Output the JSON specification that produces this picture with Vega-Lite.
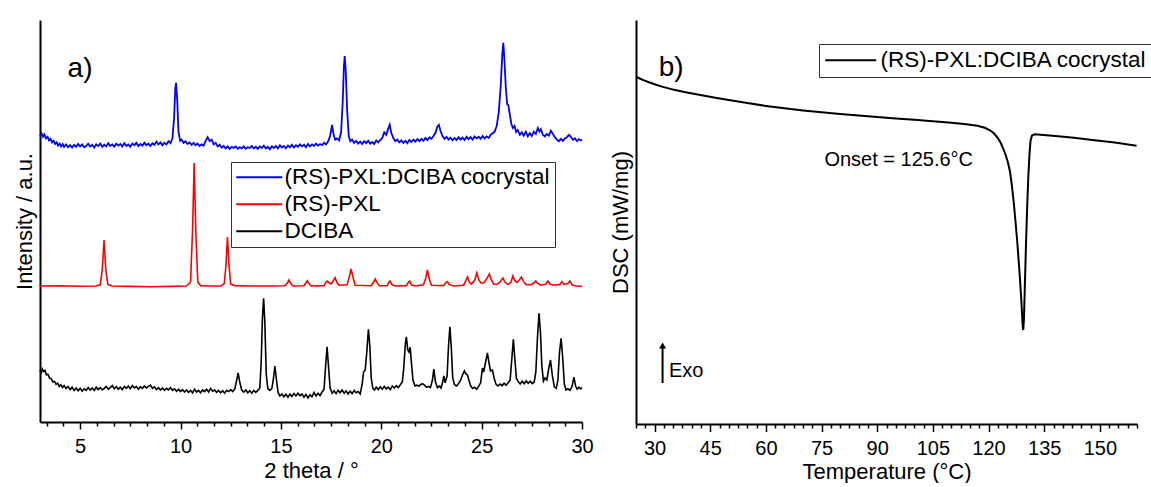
{
"$schema": "https://vega.github.io/schema/vega-lite/v6.json",
"background": "white",
"padding": {"left": 13, "top": 20, "right": 0, "bottom": 0},
"config": {
 "font": "Liberation Sans",
 "view": {"stroke": null},
 "axis": {"grid": false, "domainColor": "black", "domainWidth": 2, "tickColor": "black", "tickWidth": 1.5, "labelColor": "black", "titleColor": "black", "labelFont": "Liberation Sans", "titleFont": "Liberation Sans", "labelFontSize": 20, "titleFontSize": 22, "titleFontWeight": "normal", "labelFlush": false, "labelOverlap": false},
 "legend": {"labelFont": "Liberation Sans", "labelColor": "black"}
},
"spacing": 15,
"resolve": {"scale": {"color": "independent"}, "legend": {"color": "independent"}},
"datasets": {
 "cocrystal": [
  {"t":3.00,"i":71.4},{"t":3.08,"i":72.1},{"t":3.15,"i":71.3},{"t":3.22,"i":71.9},{"t":3.30,"i":70.9},{"t":3.38,"i":71.3},{"t":3.45,"i":70.4},{"t":3.53,"i":70.8},{"t":3.60,"i":69.9},{"t":3.68,"i":70.3},{"t":3.75,"i":69.5},{"t":3.83,"i":69.9},{"t":3.90,"i":69.1},{"t":3.98,"i":69.6},{"t":4.05,"i":68.9},{"t":4.13,"i":69.5},{"t":4.20,"i":68.8},{"t":4.30,"i":69.4},{"t":4.40,"i":68.7},{"t":4.50,"i":69.2},{"t":4.60,"i":68.6},{"t":4.70,"i":69.3},{"t":4.80,"i":68.8},{"t":4.90,"i":69.5},{"t":5.00,"i":68.9},{"t":5.10,"i":69.4},{"t":5.20,"i":68.7},{"t":5.30,"i":69.0},{"t":5.40,"i":69.6},{"t":5.50,"i":68.9},{"t":5.60,"i":69.3},{"t":5.70,"i":68.6},{"t":5.80,"i":69.4},{"t":5.90,"i":69.0},{"t":6.00,"i":69.6},{"t":6.10,"i":68.8},{"t":6.20,"i":69.3},{"t":6.30,"i":68.9},{"t":6.40,"i":69.7},{"t":6.50,"i":69.0},{"t":6.60,"i":69.4},{"t":6.70,"i":68.8},{"t":6.80,"i":69.6},{"t":6.90,"i":69.1},{"t":7.00,"i":69.5},{"t":7.10,"i":68.9},{"t":7.20,"i":69.7},{"t":7.30,"i":69.0},{"t":7.40,"i":69.4},{"t":7.50,"i":68.8},{"t":7.60,"i":69.6},{"t":7.70,"i":69.2},{"t":7.80,"i":69.8},{"t":7.90,"i":69.0},{"t":8.00,"i":69.5},{"t":8.10,"i":69.1},{"t":8.20,"i":69.8},{"t":8.30,"i":69.2},{"t":8.40,"i":69.6},{"t":8.50,"i":69.0},{"t":8.60,"i":69.7},{"t":8.70,"i":69.3},{"t":8.80,"i":70.1},{"t":8.90,"i":69.4},{"t":9.00,"i":69.9},{"t":9.10,"i":69.2},{"t":9.20,"i":69.8},{"t":9.30,"i":69.4},{"t":9.40,"i":70.2},{"t":9.50,"i":69.7},{"t":9.60,"i":71.0},{"t":9.68,"i":76.0},{"t":9.74,"i":83.5},{"t":9.78,"i":84.8},{"t":9.84,"i":80.0},{"t":9.90,"i":72.5},{"t":9.98,"i":70.3},{"t":10.05,"i":70.6},{"t":10.15,"i":69.8},{"t":10.25,"i":70.2},{"t":10.35,"i":69.5},{"t":10.45,"i":69.9},{"t":10.55,"i":69.3},{"t":10.65,"i":69.8},{"t":10.75,"i":69.2},{"t":10.85,"i":69.6},{"t":10.95,"i":69.0},{"t":11.05,"i":69.4},{"t":11.15,"i":69.1},{"t":11.25,"i":70.3},{"t":11.35,"i":71.2},{"t":11.45,"i":70.2},{"t":11.55,"i":70.6},{"t":11.65,"i":69.4},{"t":11.75,"i":69.8},{"t":11.85,"i":68.9},{"t":11.95,"i":69.3},{"t":12.05,"i":68.6},{"t":12.15,"i":69.0},{"t":12.25,"i":68.4},{"t":12.35,"i":68.9},{"t":12.45,"i":68.3},{"t":12.55,"i":68.8},{"t":12.65,"i":68.5},{"t":12.75,"i":68.9},{"t":12.85,"i":68.3},{"t":12.95,"i":68.7},{"t":13.05,"i":68.4},{"t":13.15,"i":68.9},{"t":13.25,"i":68.3},{"t":13.35,"i":68.7},{"t":13.45,"i":68.5},{"t":13.55,"i":69.0},{"t":13.65,"i":68.4},{"t":13.75,"i":68.8},{"t":13.85,"i":68.3},{"t":13.95,"i":68.9},{"t":14.05,"i":68.5},{"t":14.15,"i":69.1},{"t":14.25,"i":68.4},{"t":14.35,"i":68.8},{"t":14.45,"i":68.2},{"t":14.55,"i":68.9},{"t":14.65,"i":68.5},{"t":14.75,"i":69.0},{"t":14.85,"i":68.4},{"t":14.95,"i":69.2},{"t":15.05,"i":68.6},{"t":15.15,"i":69.0},{"t":15.25,"i":68.4},{"t":15.35,"i":69.1},{"t":15.45,"i":68.7},{"t":15.55,"i":69.3},{"t":15.65,"i":68.6},{"t":15.75,"i":69.2},{"t":15.85,"i":68.8},{"t":15.95,"i":69.4},{"t":16.05,"i":68.9},{"t":16.15,"i":69.3},{"t":16.25,"i":68.7},{"t":16.35,"i":69.5},{"t":16.45,"i":68.9},{"t":16.55,"i":69.4},{"t":16.65,"i":69.0},{"t":16.75,"i":69.6},{"t":16.85,"i":69.1},{"t":16.95,"i":69.5},{"t":17.05,"i":69.2},{"t":17.15,"i":69.8},{"t":17.25,"i":69.4},{"t":17.35,"i":70.1},{"t":17.45,"i":71.5},{"t":17.55,"i":74.3},{"t":17.62,"i":72.0},{"t":17.70,"i":70.6},{"t":17.80,"i":70.9},{"t":17.90,"i":70.4},{"t":18.00,"i":72.5},{"t":18.08,"i":80.0},{"t":18.14,"i":89.0},{"t":18.18,"i":91.5},{"t":18.23,"i":88.0},{"t":18.30,"i":78.0},{"t":18.38,"i":71.5},{"t":18.46,"i":70.2},{"t":18.55,"i":70.6},{"t":18.65,"i":69.8},{"t":18.75,"i":70.3},{"t":18.85,"i":69.6},{"t":18.95,"i":70.1},{"t":19.05,"i":69.5},{"t":19.15,"i":70.2},{"t":19.25,"i":69.7},{"t":19.35,"i":70.3},{"t":19.45,"i":69.6},{"t":19.55,"i":70.0},{"t":19.65,"i":69.5},{"t":19.75,"i":70.4},{"t":19.85,"i":69.9},{"t":19.95,"i":70.5},{"t":20.05,"i":71.0},{"t":20.15,"i":72.4},{"t":20.25,"i":71.8},{"t":20.35,"i":73.4},{"t":20.42,"i":74.3},{"t":20.50,"i":72.3},{"t":20.60,"i":71.0},{"t":20.70,"i":70.2},{"t":20.80,"i":70.6},{"t":20.90,"i":69.9},{"t":21.00,"i":70.4},{"t":21.10,"i":69.8},{"t":21.20,"i":70.3},{"t":21.30,"i":69.7},{"t":21.40,"i":70.5},{"t":21.50,"i":70.0},{"t":21.60,"i":70.6},{"t":21.70,"i":70.1},{"t":21.80,"i":70.7},{"t":21.90,"i":70.2},{"t":22.00,"i":70.8},{"t":22.10,"i":70.3},{"t":22.20,"i":71.0},{"t":22.30,"i":70.5},{"t":22.40,"i":71.2},{"t":22.50,"i":70.8},{"t":22.60,"i":71.5},{"t":22.70,"i":72.3},{"t":22.80,"i":73.9},{"t":22.87,"i":74.3},{"t":22.95,"i":72.8},{"t":23.05,"i":71.5},{"t":23.15,"i":70.8},{"t":23.25,"i":71.3},{"t":23.35,"i":70.6},{"t":23.45,"i":71.1},{"t":23.55,"i":70.4},{"t":23.65,"i":71.0},{"t":23.75,"i":70.5},{"t":23.85,"i":71.2},{"t":23.95,"i":70.6},{"t":24.05,"i":71.1},{"t":24.15,"i":70.5},{"t":24.25,"i":71.3},{"t":24.35,"i":70.7},{"t":24.45,"i":71.2},{"t":24.55,"i":70.6},{"t":24.65,"i":71.4},{"t":24.75,"i":70.9},{"t":24.85,"i":71.3},{"t":24.95,"i":70.8},{"t":25.05,"i":71.5},{"t":25.15,"i":70.9},{"t":25.25,"i":71.4},{"t":25.35,"i":71.0},{"t":25.45,"i":71.8},{"t":25.55,"i":72.2},{"t":25.65,"i":72.6},{"t":25.75,"i":74.0},{"t":25.85,"i":77.3},{"t":25.95,"i":84.0},{"t":26.03,"i":92.0},{"t":26.08,"i":94.8},{"t":26.13,"i":91.0},{"t":26.20,"i":84.0},{"t":26.27,"i":79.5},{"t":26.33,"i":79.2},{"t":26.40,"i":77.0},{"t":26.48,"i":74.5},{"t":26.56,"i":73.5},{"t":26.64,"i":74.0},{"t":26.72,"i":72.5},{"t":26.80,"i":73.0},{"t":26.90,"i":71.8},{"t":27.00,"i":72.4},{"t":27.10,"i":71.6},{"t":27.20,"i":72.6},{"t":27.30,"i":71.4},{"t":27.40,"i":72.2},{"t":27.50,"i":71.5},{"t":27.60,"i":72.6},{"t":27.70,"i":72.0},{"t":27.80,"i":73.5},{"t":27.88,"i":72.6},{"t":27.95,"i":73.2},{"t":28.05,"i":71.8},{"t":28.15,"i":71.4},{"t":28.25,"i":72.0},{"t":28.35,"i":71.6},{"t":28.45,"i":72.8},{"t":28.55,"i":72.0},{"t":28.65,"i":71.2},{"t":28.75,"i":70.6},{"t":28.85,"i":70.2},{"t":28.95,"i":70.8},{"t":29.05,"i":70.3},{"t":29.15,"i":70.9},{"t":29.25,"i":71.2},{"t":29.35,"i":71.8},{"t":29.45,"i":71.3},{"t":29.55,"i":70.5},{"t":29.65,"i":70.9},{"t":29.75,"i":70.2},{"t":29.85,"i":70.7},{"t":29.95,"i":70.4},{"t":30.00,"i":70.6}
 ],
 "pxl": [
  {"t":3.0,"i":34.0},{"t":4.0,"i":34.05},{"t":5.0,"i":33.95},{"t":5.8,"i":34.0},{"t":6.0,"i":34.3},{"t":6.1,"i":38.0},{"t":6.19,"i":45.5},{"t":6.28,"i":38.0},{"t":6.38,"i":34.4},{"t":6.6,"i":34.0},{"t":7.5,"i":33.9},{"t":8.5,"i":33.8},{"t":9.5,"i":33.9},{"t":10.3,"i":34.0},{"t":10.5,"i":35.0},{"t":10.6,"i":48.0},{"t":10.68,"i":64.75},{"t":10.76,"i":48.0},{"t":10.86,"i":35.0},{"t":11.0,"i":34.1},{"t":11.5,"i":34.0},{"t":12.0,"i":34.0},{"t":12.18,"i":34.6},{"t":12.26,"i":39.0},{"t":12.34,"i":46.25},{"t":12.42,"i":39.0},{"t":12.5,"i":34.5},{"t":12.7,"i":34.1},{"t":13.5,"i":34.0},{"t":14.5,"i":34.0},{"t":15.2,"i":34.05},{"t":15.32,"i":34.7},{"t":15.4,"i":35.5},{"t":15.48,"i":34.7},{"t":15.6,"i":34.0},{"t":16.15,"i":34.05},{"t":16.25,"i":34.8},{"t":16.32,"i":35.3},{"t":16.4,"i":34.6},{"t":16.5,"i":34.0},{"t":17.15,"i":34.1},{"t":17.25,"i":35.0},{"t":17.32,"i":35.25},{"t":17.4,"i":34.8},{"t":17.5,"i":34.5},{"t":17.6,"i":35.2},{"t":17.7,"i":36.1},{"t":17.8,"i":34.8},{"t":17.9,"i":34.2},{"t":18.3,"i":34.3},{"t":18.42,"i":36.5},{"t":18.5,"i":38.25},{"t":18.58,"i":36.5},{"t":18.7,"i":34.2},{"t":19.5,"i":34.05},{"t":19.62,"i":35.0},{"t":19.7,"i":35.75},{"t":19.78,"i":34.9},{"t":19.9,"i":34.05},{"t":20.3,"i":34.1},{"t":20.38,"i":35.0},{"t":20.44,"i":35.25},{"t":20.52,"i":34.4},{"t":20.7,"i":34.0},{"t":21.25,"i":34.1},{"t":21.36,"i":35.0},{"t":21.42,"i":35.25},{"t":21.5,"i":34.3},{"t":21.7,"i":34.0},{"t":22.1,"i":34.3},{"t":22.22,"i":36.0},{"t":22.3,"i":38.0},{"t":22.38,"i":36.0},{"t":22.5,"i":34.2},{"t":23.1,"i":34.1},{"t":23.24,"i":34.9},{"t":23.3,"i":35.1},{"t":23.38,"i":34.4},{"t":23.6,"i":34.0},{"t":24.1,"i":34.2},{"t":24.22,"i":35.4},{"t":24.3,"i":36.25},{"t":24.38,"i":35.0},{"t":24.5,"i":34.5},{"t":24.66,"i":35.5},{"t":24.76,"i":37.25},{"t":24.86,"i":35.5},{"t":24.98,"i":34.7},{"t":25.12,"i":34.8},{"t":25.28,"i":36.0},{"t":25.38,"i":37.0},{"t":25.48,"i":35.6},{"t":25.6,"i":34.5},{"t":25.76,"i":34.4},{"t":25.92,"i":35.0},{"t":26.06,"i":36.0},{"t":26.16,"i":35.0},{"t":26.3,"i":34.4},{"t":26.45,"i":34.8},{"t":26.56,"i":36.5},{"t":26.64,"i":35.4},{"t":26.76,"i":34.9},{"t":26.88,"i":35.5},{"t":26.98,"i":36.25},{"t":27.08,"i":35.2},{"t":27.2,"i":34.4},{"t":27.45,"i":34.3},{"t":27.62,"i":34.8},{"t":27.7,"i":35.25},{"t":27.78,"i":34.7},{"t":27.95,"i":34.2},{"t":28.2,"i":34.5},{"t":28.3,"i":35.25},{"t":28.4,"i":34.5},{"t":28.6,"i":34.2},{"t":28.9,"i":34.4},{"t":29.0,"i":35.1},{"t":29.1,"i":34.4},{"t":29.3,"i":34.6},{"t":29.4,"i":35.25},{"t":29.5,"i":34.3},{"t":29.7,"i":34.0},{"t":30.0,"i":33.9}
 ],
 "dciba": [
  {"t":3.00,"i":13.0},{"t":3.06,"i":12.3},{"t":3.12,"i":13.2},{"t":3.18,"i":12.6},{"t":3.25,"i":12.9},{"t":3.32,"i":11.8},{"t":3.40,"i":11.9},{"t":3.48,"i":10.9},{"t":3.56,"i":10.8},{"t":3.64,"i":10.0},{"t":3.72,"i":10.2},{"t":3.80,"i":9.4},{"t":3.88,"i":9.7},{"t":3.96,"i":8.9},{"t":4.04,"i":9.3},{"t":4.12,"i":8.6},{"t":4.20,"i":9.1},{"t":4.30,"i":8.4},{"t":4.40,"i":8.9},{"t":4.50,"i":8.1},{"t":4.60,"i":8.7},{"t":4.70,"i":7.9},{"t":4.80,"i":8.5},{"t":4.90,"i":7.8},{"t":5.00,"i":8.4},{"t":5.10,"i":7.7},{"t":5.20,"i":8.3},{"t":5.30,"i":7.9},{"t":5.40,"i":8.6},{"t":5.50,"i":8.0},{"t":5.60,"i":8.5},{"t":5.70,"i":7.9},{"t":5.80,"i":8.7},{"t":5.90,"i":8.1},{"t":6.00,"i":8.6},{"t":6.10,"i":8.0},{"t":6.20,"i":8.4},{"t":6.30,"i":8.9},{"t":6.40,"i":8.2},{"t":6.50,"i":8.6},{"t":6.60,"i":9.1},{"t":6.70,"i":8.3},{"t":6.80,"i":8.8},{"t":6.90,"i":8.2},{"t":7.00,"i":8.7},{"t":7.10,"i":8.1},{"t":7.20,"i":8.9},{"t":7.30,"i":8.4},{"t":7.40,"i":9.0},{"t":7.50,"i":8.3},{"t":7.60,"i":9.1},{"t":7.70,"i":8.5},{"t":7.80,"i":8.9},{"t":7.90,"i":8.2},{"t":8.00,"i":8.8},{"t":8.10,"i":8.4},{"t":8.20,"i":9.0},{"t":8.30,"i":8.5},{"t":8.40,"i":8.9},{"t":8.50,"i":9.2},{"t":8.60,"i":8.4},{"t":8.70,"i":8.8},{"t":8.80,"i":8.1},{"t":8.90,"i":8.6},{"t":9.00,"i":8.0},{"t":9.10,"i":8.5},{"t":9.20,"i":7.9},{"t":9.30,"i":8.4},{"t":9.40,"i":8.0},{"t":9.50,"i":8.6},{"t":9.60,"i":7.9},{"t":9.70,"i":8.3},{"t":9.80,"i":7.7},{"t":9.90,"i":8.2},{"t":10.00,"i":7.6},{"t":10.10,"i":8.1},{"t":10.20,"i":7.5},{"t":10.30,"i":8.0},{"t":10.40,"i":7.4},{"t":10.50,"i":7.9},{"t":10.60,"i":7.3},{"t":10.70,"i":8.2},{"t":10.80,"i":7.5},{"t":10.90,"i":7.9},{"t":11.00,"i":7.3},{"t":11.10,"i":8.0},{"t":11.20,"i":7.6},{"t":11.30,"i":8.2},{"t":11.40,"i":7.5},{"t":11.50,"i":8.4},{"t":11.60,"i":7.7},{"t":11.70,"i":8.0},{"t":11.80,"i":7.4},{"t":11.90,"i":7.9},{"t":12.00,"i":7.3},{"t":12.10,"i":7.8},{"t":12.20,"i":7.2},{"t":12.30,"i":7.9},{"t":12.40,"i":7.6},{"t":12.50,"i":8.1},{"t":12.60,"i":7.6},{"t":12.70,"i":8.2},{"t":12.80,"i":10.5},{"t":12.87,"i":12.3},{"t":12.95,"i":10.0},{"t":13.05,"i":8.0},{"t":13.15,"i":7.5},{"t":13.25,"i":8.0},{"t":13.35,"i":7.3},{"t":13.45,"i":7.8},{"t":13.55,"i":7.2},{"t":13.65,"i":7.9},{"t":13.75,"i":7.4},{"t":13.85,"i":7.9},{"t":13.95,"i":8.5},{"t":14.02,"i":15.0},{"t":14.08,"i":26.0},{"t":14.14,"i":30.9},{"t":14.20,"i":25.0},{"t":14.27,"i":12.0},{"t":14.35,"i":8.3},{"t":14.45,"i":7.9},{"t":14.55,"i":8.4},{"t":14.62,"i":10.5},{"t":14.70,"i":14.0},{"t":14.78,"i":10.5},{"t":14.86,"i":7.4},{"t":14.95,"i":6.5},{"t":15.05,"i":7.0},{"t":15.15,"i":6.3},{"t":15.25,"i":6.9},{"t":15.35,"i":6.2},{"t":15.45,"i":7.0},{"t":15.55,"i":6.4},{"t":15.65,"i":7.1},{"t":15.75,"i":6.5},{"t":15.85,"i":7.2},{"t":15.95,"i":6.6},{"t":16.05,"i":7.0},{"t":16.15,"i":6.2},{"t":16.25,"i":6.9},{"t":16.35,"i":6.0},{"t":16.45,"i":6.8},{"t":16.55,"i":6.3},{"t":16.65,"i":7.4},{"t":16.75,"i":6.5},{"t":16.85,"i":7.2},{"t":16.95,"i":6.6},{"t":17.05,"i":7.5},{"t":17.15,"i":8.2},{"t":17.22,"i":13.5},{"t":17.30,"i":18.8},{"t":17.37,"i":14.0},{"t":17.45,"i":8.6},{"t":17.55,"i":7.2},{"t":17.65,"i":7.8},{"t":17.75,"i":7.1},{"t":17.85,"i":7.9},{"t":17.95,"i":7.3},{"t":18.05,"i":8.0},{"t":18.15,"i":7.2},{"t":18.25,"i":7.8},{"t":18.35,"i":7.0},{"t":18.45,"i":7.7},{"t":18.55,"i":7.1},{"t":18.65,"i":7.9},{"t":18.75,"i":7.3},{"t":18.85,"i":7.6},{"t":18.95,"i":7.0},{"t":19.05,"i":9.5},{"t":19.12,"i":12.5},{"t":19.20,"i":13.0},{"t":19.28,"i":17.5},{"t":19.36,"i":23.2},{"t":19.43,"i":19.0},{"t":19.50,"i":11.0},{"t":19.58,"i":8.4},{"t":19.66,"i":8.0},{"t":19.75,"i":8.7},{"t":19.85,"i":8.1},{"t":19.95,"i":8.8},{"t":20.05,"i":8.2},{"t":20.15,"i":8.9},{"t":20.25,"i":8.3},{"t":20.35,"i":8.7},{"t":20.45,"i":8.1},{"t":20.55,"i":9.0},{"t":20.65,"i":8.5},{"t":20.75,"i":9.1},{"t":20.85,"i":8.6},{"t":20.95,"i":9.3},{"t":21.05,"i":10.0},{"t":21.12,"i":13.5},{"t":21.20,"i":19.5},{"t":21.25,"i":21.3},{"t":21.32,"i":18.0},{"t":21.38,"i":17.5},{"t":21.44,"i":18.7},{"t":21.50,"i":15.0},{"t":21.58,"i":10.5},{"t":21.68,"i":9.0},{"t":21.78,"i":9.2},{"t":21.88,"i":9.0},{"t":21.98,"i":9.4},{"t":22.05,"i":9.6},{"t":22.15,"i":9.2},{"t":22.25,"i":8.7},{"t":22.35,"i":8.9},{"t":22.45,"i":8.6},{"t":22.55,"i":10.5},{"t":22.62,"i":13.2},{"t":22.70,"i":10.0},{"t":22.80,"i":8.6},{"t":22.90,"i":9.0},{"t":22.98,"i":8.5},{"t":23.06,"i":10.0},{"t":23.12,"i":11.5},{"t":23.18,"i":9.8},{"t":23.28,"i":11.5},{"t":23.35,"i":19.0},{"t":23.42,"i":23.8},{"t":23.49,"i":18.5},{"t":23.56,"i":11.0},{"t":23.65,"i":9.3},{"t":23.75,"i":9.0},{"t":23.85,"i":9.6},{"t":23.95,"i":10.4},{"t":24.05,"i":11.8},{"t":24.14,"i":12.8},{"t":24.22,"i":12.0},{"t":24.30,"i":11.7},{"t":24.38,"i":10.2},{"t":24.46,"i":9.0},{"t":24.55,"i":8.4},{"t":24.65,"i":8.7},{"t":24.75,"i":8.2},{"t":24.85,"i":8.9},{"t":24.95,"i":9.8},{"t":25.04,"i":13.5},{"t":25.10,"i":12.5},{"t":25.18,"i":14.5},{"t":25.29,"i":17.3},{"t":25.36,"i":15.0},{"t":25.44,"i":12.8},{"t":25.54,"i":13.0},{"t":25.62,"i":11.0},{"t":25.72,"i":9.4},{"t":25.82,"i":9.0},{"t":25.92,"i":9.5},{"t":26.02,"i":9.1},{"t":26.12,"i":9.7},{"t":26.22,"i":9.2},{"t":26.32,"i":9.8},{"t":26.42,"i":10.5},{"t":26.50,"i":15.5},{"t":26.58,"i":20.7},{"t":26.65,"i":16.0},{"t":26.73,"i":11.0},{"t":26.82,"i":10.1},{"t":26.92,"i":9.5},{"t":27.02,"i":10.2},{"t":27.12,"i":9.6},{"t":27.22,"i":10.3},{"t":27.32,"i":9.7},{"t":27.42,"i":10.2},{"t":27.52,"i":9.6},{"t":27.62,"i":10.0},{"t":27.70,"i":12.5},{"t":27.78,"i":21.0},{"t":27.86,"i":27.2},{"t":27.93,"i":22.5},{"t":28.00,"i":14.0},{"t":28.08,"i":10.2},{"t":28.16,"i":11.0},{"t":28.25,"i":10.5},{"t":28.33,"i":13.0},{"t":28.43,"i":15.5},{"t":28.52,"i":11.8},{"t":28.62,"i":8.8},{"t":28.72,"i":8.4},{"t":28.80,"i":10.5},{"t":28.88,"i":17.5},{"t":28.96,"i":20.9},{"t":29.04,"i":16.0},{"t":29.12,"i":9.5},{"t":29.20,"i":8.0},{"t":29.30,"i":8.3},{"t":29.40,"i":7.9},{"t":29.50,"i":8.8},{"t":29.60,"i":11.2},{"t":29.68,"i":9.0},{"t":29.76,"i":8.2},{"t":29.85,"i":8.7},{"t":29.93,"i":8.3},{"t":30.00,"i":8.6}
 ],
 "dsc": [
  {"T":25.0,"d":-0.587},{"T":26.0,"d":-0.605},{"T":27.0,"d":-0.622},{"T":28.5,"d":-0.643},{"T":30.0,"d":-0.662},{"T":32.0,"d":-0.686},{"T":35.0,"d":-0.716},{"T":38.0,"d":-0.740},{"T":42.0,"d":-0.768},{"T":46.0,"d":-0.795},{"T":50.0,"d":-0.821},{"T":55.0,"d":-0.851},{"T":60.0,"d":-0.879},{"T":65.0,"d":-0.903},{"T":70.0,"d":-0.924},{"T":75.0,"d":-0.943},{"T":80.0,"d":-0.960},{"T":85.0,"d":-0.975},{"T":90.0,"d":-0.990},{"T":95.0,"d":-1.004},{"T":100.0,"d":-1.018},{"T":105.0,"d":-1.032},{"T":110.0,"d":-1.047},{"T":114.0,"d":-1.062},{"T":117.0,"d":-1.078},{"T":119.0,"d":-1.098},{"T":120.5,"d":-1.125},{"T":121.5,"d":-1.155},{"T":122.5,"d":-1.200},{"T":123.3,"d":-1.250},{"T":124.0,"d":-1.310},{"T":124.6,"d":-1.370},{"T":125.2,"d":-1.440},{"T":125.8,"d":-1.540},{"T":126.3,"d":-1.680},{"T":126.8,"d":-1.850},{"T":127.3,"d":-2.050},{"T":127.8,"d":-2.270},{"T":128.3,"d":-2.520},{"T":128.8,"d":-2.800},{"T":129.2,"d":-3.080},{"T":129.35,"d":-3.120},{"T":129.55,"d":-3.000},{"T":129.8,"d":-2.650},{"T":130.1,"d":-2.250},{"T":130.4,"d":-1.900},{"T":130.7,"d":-1.600},{"T":131.0,"d":-1.380},{"T":131.3,"d":-1.230},{"T":131.7,"d":-1.175},{"T":132.4,"d":-1.163},{"T":134.0,"d":-1.168},{"T":138.0,"d":-1.180},{"T":143.0,"d":-1.198},{"T":148.0,"d":-1.220},{"T":154.0,"d":-1.246},{"T":159.9,"d":-1.277}
 ]
},
"hconcat": [
 {
  "width": 542,
  "height": 402,
  "resolve": {"axis": {"x": "independent", "y": "independent"}},
  "layer": [
   {
    "data": {"name": "cocrystal"},
    "mark": {"type": "line", "strokeWidth": 1.8},
    "encoding": {
     "x": {"field": "t", "type": "quantitative", "scale": {"domain": [3, 30], "nice": false, "zero": false},
       "axis": {"orient": "bottom", "values": [5, 10, 15, 20, 25, 30], "tickSize": 7, "labelPadding": 7, "title": "2 theta / °", "titlePadding": 4}},
     "y": {"field": "i", "type": "quantitative", "scale": {"domain": [0, 100.5], "nice": false, "zero": false},
       "axis": {"orient": "left", "title": "Intensity / a.u.", "ticks": false, "labels": false, "titlePadding": 4}},
     "color": {"datum": "(RS)-PXL:DCIBA cocrystal", "type": "nominal",
       "scale": {"domain": ["(RS)-PXL:DCIBA cocrystal", "(RS)-PXL", "DCIBA"], "range": ["#0000ff", "#ff0000", "#000000"]},
       "legend": {"title": null, "orient": "none", "legendX": 191, "legendY": 142, "direction": "vertical", "symbolType": "M-1,0H3.6", "symbolSize": 400, "symbolStrokeWidth": 2, "symbolFillColor": "transparent", "labelFontSize": 22.5, "labelLimit": 500, "labelOffset": 27, "strokeColor": "#333333", "padding": 4, "rowPadding": 4}}
    }
   },
   {
    "data": {"name": "pxl"},
    "mark": {"type": "line", "strokeWidth": 1.6},
    "encoding": {
     "x": {"field": "t", "type": "quantitative", "axis": null},
     "y": {"field": "i", "type": "quantitative", "axis": null},
     "color": {"datum": "(RS)-PXL", "type": "nominal"}
    }
   },
   {
    "data": {"name": "dciba"},
    "mark": {"type": "line", "strokeWidth": 1.6},
    "encoding": {
     "x": {"field": "t", "type": "quantitative", "axis": null},
     "y": {"field": "i", "type": "quantitative", "axis": null},
     "color": {"datum": "DCIBA", "type": "nominal"}
    }
   },
   {
    "data": {"values": [{"t": 4.375, "i": 86.15, "txt": "a)"}]},
    "mark": {"type": "text", "fontSize": 28, "align": "left", "baseline": "alphabetic", "color": "black"},
    "encoding": {
     "x": {"field": "t", "type": "quantitative",
       "axis": {"orient": "bottom", "values": [3.333,4.167,5.833,6.667,7.5,8.333,9.167,10.833,11.667,12.5,13.333,14.167,15.833,16.667,17.5,18.333,19.167,20.833,21.667,22.5,23.333,24.167,25.833,26.667,27.5,28.333,29.167], "tickSize": 4, "labels": false, "domain": false, "title": null}},
     "y": {"field": "i", "type": "quantitative", "axis": null},
     "text": {"field": "txt"}
    }
   }
  ]
 },
 {
  "width": 501,
  "height": 404,
  "resolve": {"axis": {"x": "independent", "y": "independent"}},
  "layer": [
   {
    "data": {"name": "dsc"},
    "mark": {"type": "line", "strokeWidth": 2},
    "encoding": {
     "x": {"field": "T", "type": "quantitative", "scale": {"domain": [25, 160], "nice": false, "zero": false},
       "axis": {"orient": "bottom", "values": [30, 45, 60, 75, 90, 105, 120, 135, 150], "tickSize": 7.5, "labelPadding": 7, "title": "Temperature (°C)", "titlePadding": 3}},
     "y": {"field": "d", "type": "quantitative", "scale": {"domain": [-4.06, -0.02], "nice": false, "zero": false},
       "axis": {"orient": "left", "title": "DSC (mW/mg)", "ticks": false, "labels": false, "titlePadding": 4}},
     "color": {"datum": "(RS)-PXL:DCIBA cocrystal", "type": "nominal", "scale": {"range": ["#000000"]},
       "legend": {"title": null, "orient": "none", "legendX": 183, "legendY": 24, "symbolType": "M-1,0H4.1", "symbolSize": 400, "symbolStrokeWidth": 2, "symbolFillColor": "transparent", "labelFontSize": 22.5, "labelLimit": 500, "labelOffset": 34, "strokeColor": "#333333", "padding": 5}}
    }
   },
   {
    "data": {"values": [{"T": 95.8, "d": -1.42, "txt": "Onset = 125.6°C"}]},
    "mark": {"type": "text", "fontSize": 20, "align": "center", "baseline": "middle", "color": "black"},
    "encoding": {
     "x": {"field": "T", "type": "quantitative",
       "axis": {"orient": "bottom", "values": [25,27.5,32.5,35,37.5,40,42.5,47.5,50,52.5,55,57.5,62.5,65,67.5,70,72.5,77.5,80,82.5,85,87.5,92.5,95,97.5,100,102.5,107.5,110,112.5,115,117.5,122.5,125,127.5,130,132.5,137.5,140,142.5,145,147.5,152.5,155,157.5,160], "tickSize": 4, "labels": false, "domain": false, "title": null}},
     "y": {"field": "d", "type": "quantitative", "axis": null},
     "text": {"field": "txt"}
    }
   },
   {
    "data": {"values": [{"T": 33.9, "d": -3.53, "txt": "Exo"}]},
    "mark": {"type": "text", "fontSize": 20, "align": "left", "baseline": "middle", "color": "black"},
    "encoding": {
     "x": {"field": "T", "type": "quantitative", "axis": null},
     "y": {"field": "d", "type": "quantitative", "axis": null},
     "text": {"field": "txt"}
    }
   },
   {
    "data": {"values": [{"T": 31.1, "d": -0.578, "txt": "b)"}]},
    "mark": {"type": "text", "fontSize": 28, "align": "left", "baseline": "alphabetic", "color": "black"},
    "encoding": {
     "x": {"field": "T", "type": "quantitative", "axis": null},
     "y": {"field": "d", "type": "quantitative", "axis": null},
     "text": {"field": "txt"}
    }
   },
   {
    "data": {"values": [{"T": 32.16, "d1": -3.65, "d2": -3.29}]},
    "mark": {"type": "rule", "strokeWidth": 2, "color": "black"},
    "encoding": {
     "x": {"field": "T", "type": "quantitative", "axis": null},
     "y": {"field": "d1", "type": "quantitative", "axis": null},
     "y2": {"field": "d2"}
    }
   },
   {
    "data": {"values": [{"T": 32.16, "d": -3.275}]},
    "mark": {"type": "point", "shape": "triangle-up", "filled": true, "color": "black", "size": 50, "opacity": 1},
    "encoding": {
     "x": {"field": "T", "type": "quantitative", "axis": null},
     "y": {"field": "d", "type": "quantitative", "axis": null}
    }
   }
  ]
 }
]
}
